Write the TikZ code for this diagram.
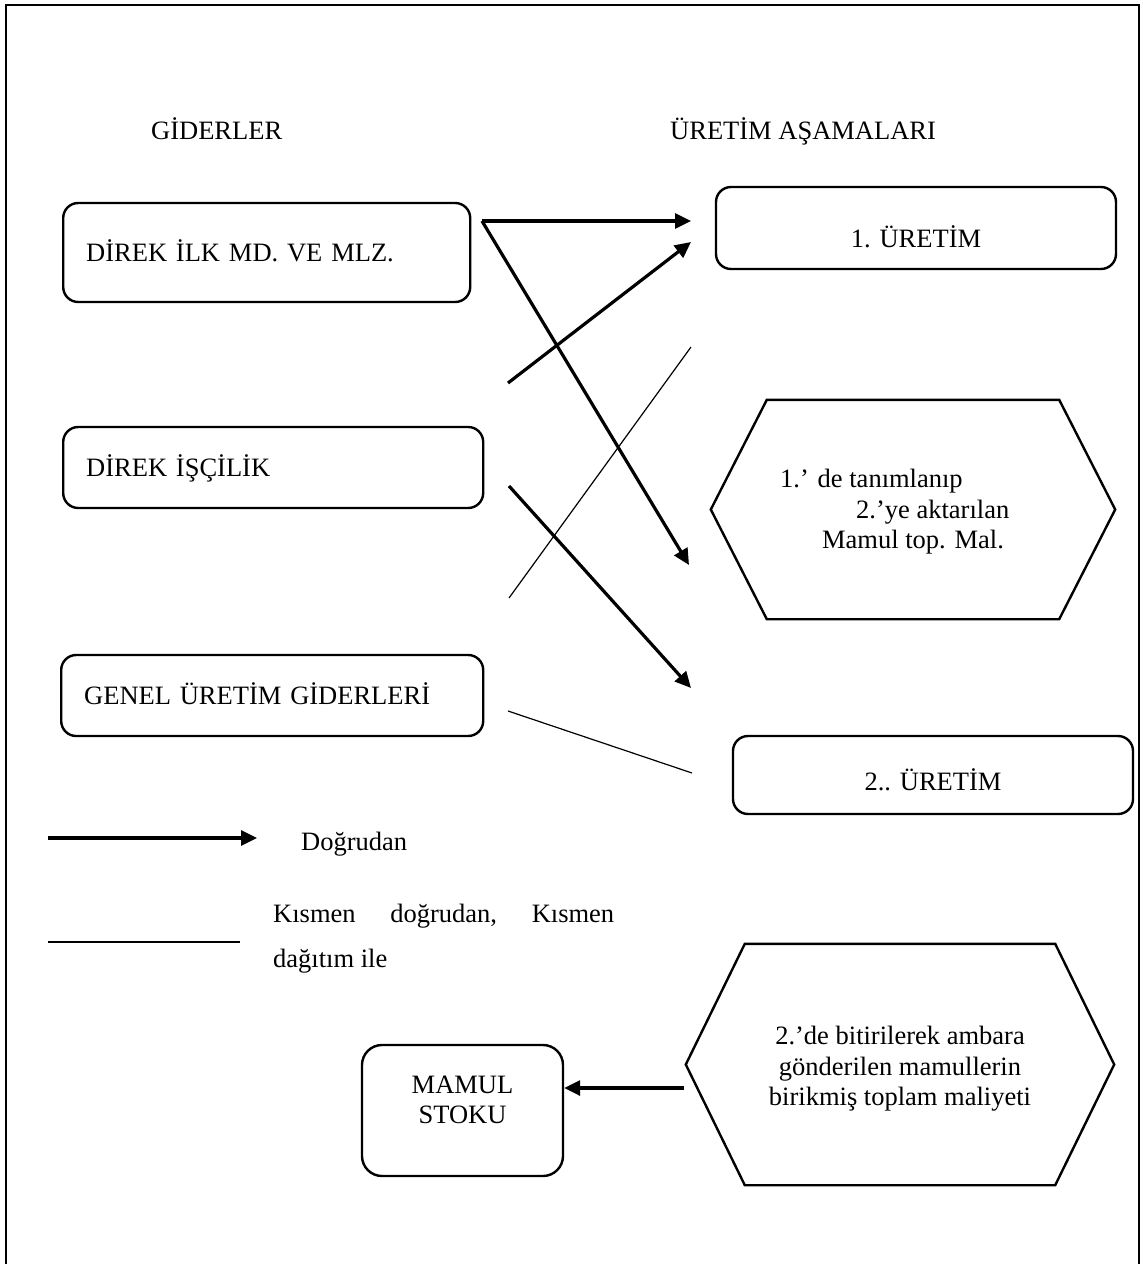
\documentclass[tikz,border=0pt]{standalone}
\usepackage{fontspec}
\setmainfont{Liberation Serif}
\usetikzlibrary{arrows.meta,calc}

\newcommand{\txtsize}{\fontsize{26.5}{30.5}\selectfont}

\tikzset{
  txt/.style={font=\txtsize, inner sep=0pt},
  costbox/.style={draw, line width=2.4pt, rounded corners=15pt, anchor=west,
    inner xsep=23pt, inner ysep=0pt, text height=18pt, text depth=0pt,
    align=left, font=\txtsize},
  stagebox/.style={draw, line width=2.4pt, rounded corners=15pt,
    inner sep=0pt, text depth=0pt, align=center, font=\txtsize},
  hexbody/.style={inner sep=0pt},
  hexline/.style={line width=2.4pt},
  direct/.style={line width=3.2pt, -{Triangle[length=16pt,width=15pt]}},
  partial/.style={line width=1.2pt},
}

\begin{document}
\begin{tikzpicture}[x=1pt,y=-1pt]
\useasboundingbox (0,0) rectangle (1143,1264);

% page frame (open at the bottom)
\draw[line width=2pt] (6,1264) -- (6,5) -- (1139,5) -- (1139,1264);

% column headings
\node[txt, anchor=base west] (hcost) at (151,139) {GİDERLER};
\node[txt, anchor=base west] (hstage) at (670,139) {ÜRETİM AŞAMALARI};

% cost items
\node[costbox, text width=361pt, minimum height=99pt] (dilk) at (62,252.5) {DİREK İLK MD. VE MLZ.};
\node[costbox, text width=374pt, minimum height=81pt] (diss) at (62,467.5) {DİREK İŞÇİLİK};
\node[costbox, text width=376pt, minimum height=81pt] (gug) at (60,695.5) {GENEL ÜRETİM GİDERLERİ};

% production stages
\node[stagebox, minimum width=400pt, minimum height=82pt, text height=38pt] (uret1) at (916,228) {1. ÜRETİM};
\node[stagebox, minimum width=400pt, minimum height=78pt, text height=30pt] (uret2) at (933,775) {2.. ÜRETİM};

% transfer from stage 1 to stage 2
\node[hexbody, minimum width=292pt, minimum height=219pt] (stage1) at (913,509.5) {};
\draw[hexline] (stage1.north west) -- (stage1.north east) -- ([xshift=56pt]stage1.east)
  -- (stage1.south east) -- (stage1.south west) -- ([xshift=-56pt]stage1.west) -- cycle;
\node[txt, anchor=base west] (s1a) at (780,487) {1.’ de tanımlanıp};
\node[txt, anchor=base west] (s1b) at (856,518) {2.’ye aktarılan};
\node[txt, anchor=base] (s1c) at (913,548) {Mamul top. Mal.};

% finished goods sent to the warehouse
\node[hexbody, minimum width=310pt, minimum height=241pt] (stage2) at (900,1064.5) {};
\draw[hexline] (stage2.north west) -- (stage2.north east) -- ([xshift=59pt]stage2.east)
  -- (stage2.south east) -- (stage2.south west) -- ([xshift=-59pt]stage2.west) -- cycle;
\node[txt, anchor=base] (s2a) at (900,1044.5) {2.’de bitirilerek ambara};
\node[txt, anchor=base] (s2b) at (900,1075) {gönderilen mamullerin};
\node[txt, anchor=base] (s2c) at (900,1105.5) {birikmiş toplam maliyeti};

% finished goods stock
\node[draw, line width=2.4pt, rounded corners=20pt, minimum width=201pt, minimum height=131pt] (stock) at (462.5,1110.5) {};
\node[txt, anchor=base] (stockA) at (stock.center |- 0,1093) {MAMUL};
\node[txt, anchor=base] (stockB) at (stock.center |- 0,1123) {STOKU};

% connector end points
\coordinate (pA) at (482,221);
\coordinate (p1top) at (691,221);
\coordinate (pHex) at (689,565);
\coordinate (pB1) at (508,383);
\coordinate (p1low) at (691,242);
\coordinate (pB2) at (509,486);
\coordinate (p2top) at (691,688);
\coordinate (pC1) at (509,598);
\coordinate (pHexTop) at (691,347);
\coordinate (pC2) at (508,711);
\coordinate (p2mid) at (692,773);
\coordinate (pS) at (684,1088);

% direct costs
\draw[direct] (pA) -- (p1top);
\draw[direct] (pA) -- (pHex);
\draw[direct] (pB1) -- (p1low);
\draw[direct] (pB2) -- (p2top);
% partly direct, partly allocated
\draw[partial] (pC1) -- (pHexTop);
\draw[partial] (pC2) -- (p2mid);
% to stock
\draw[direct] (pS) -- (pS -| stock.east);

% legend
\coordinate (lgA) at (48,838);
\coordinate (lgB) at (257,838);
\coordinate (lgC) at (48,942);
\coordinate (lgD) at (240,942);
\draw[direct] (lgA) -- (lgB);
\draw[partial] (lgC) -- (lgD);
\node[txt, anchor=base west] (lgdirect) at (301,850) {Doğrudan};
\node[txt, anchor=base west] (lgpart1) at (273,922) {\makebox[341pt][l]{Kısmen\hfill doğrudan,\hfill Kısmen}};
\node[txt, anchor=base west] (lgpart2) at (273,967) {dağıtım ile};
\end{tikzpicture}
\end{document}
